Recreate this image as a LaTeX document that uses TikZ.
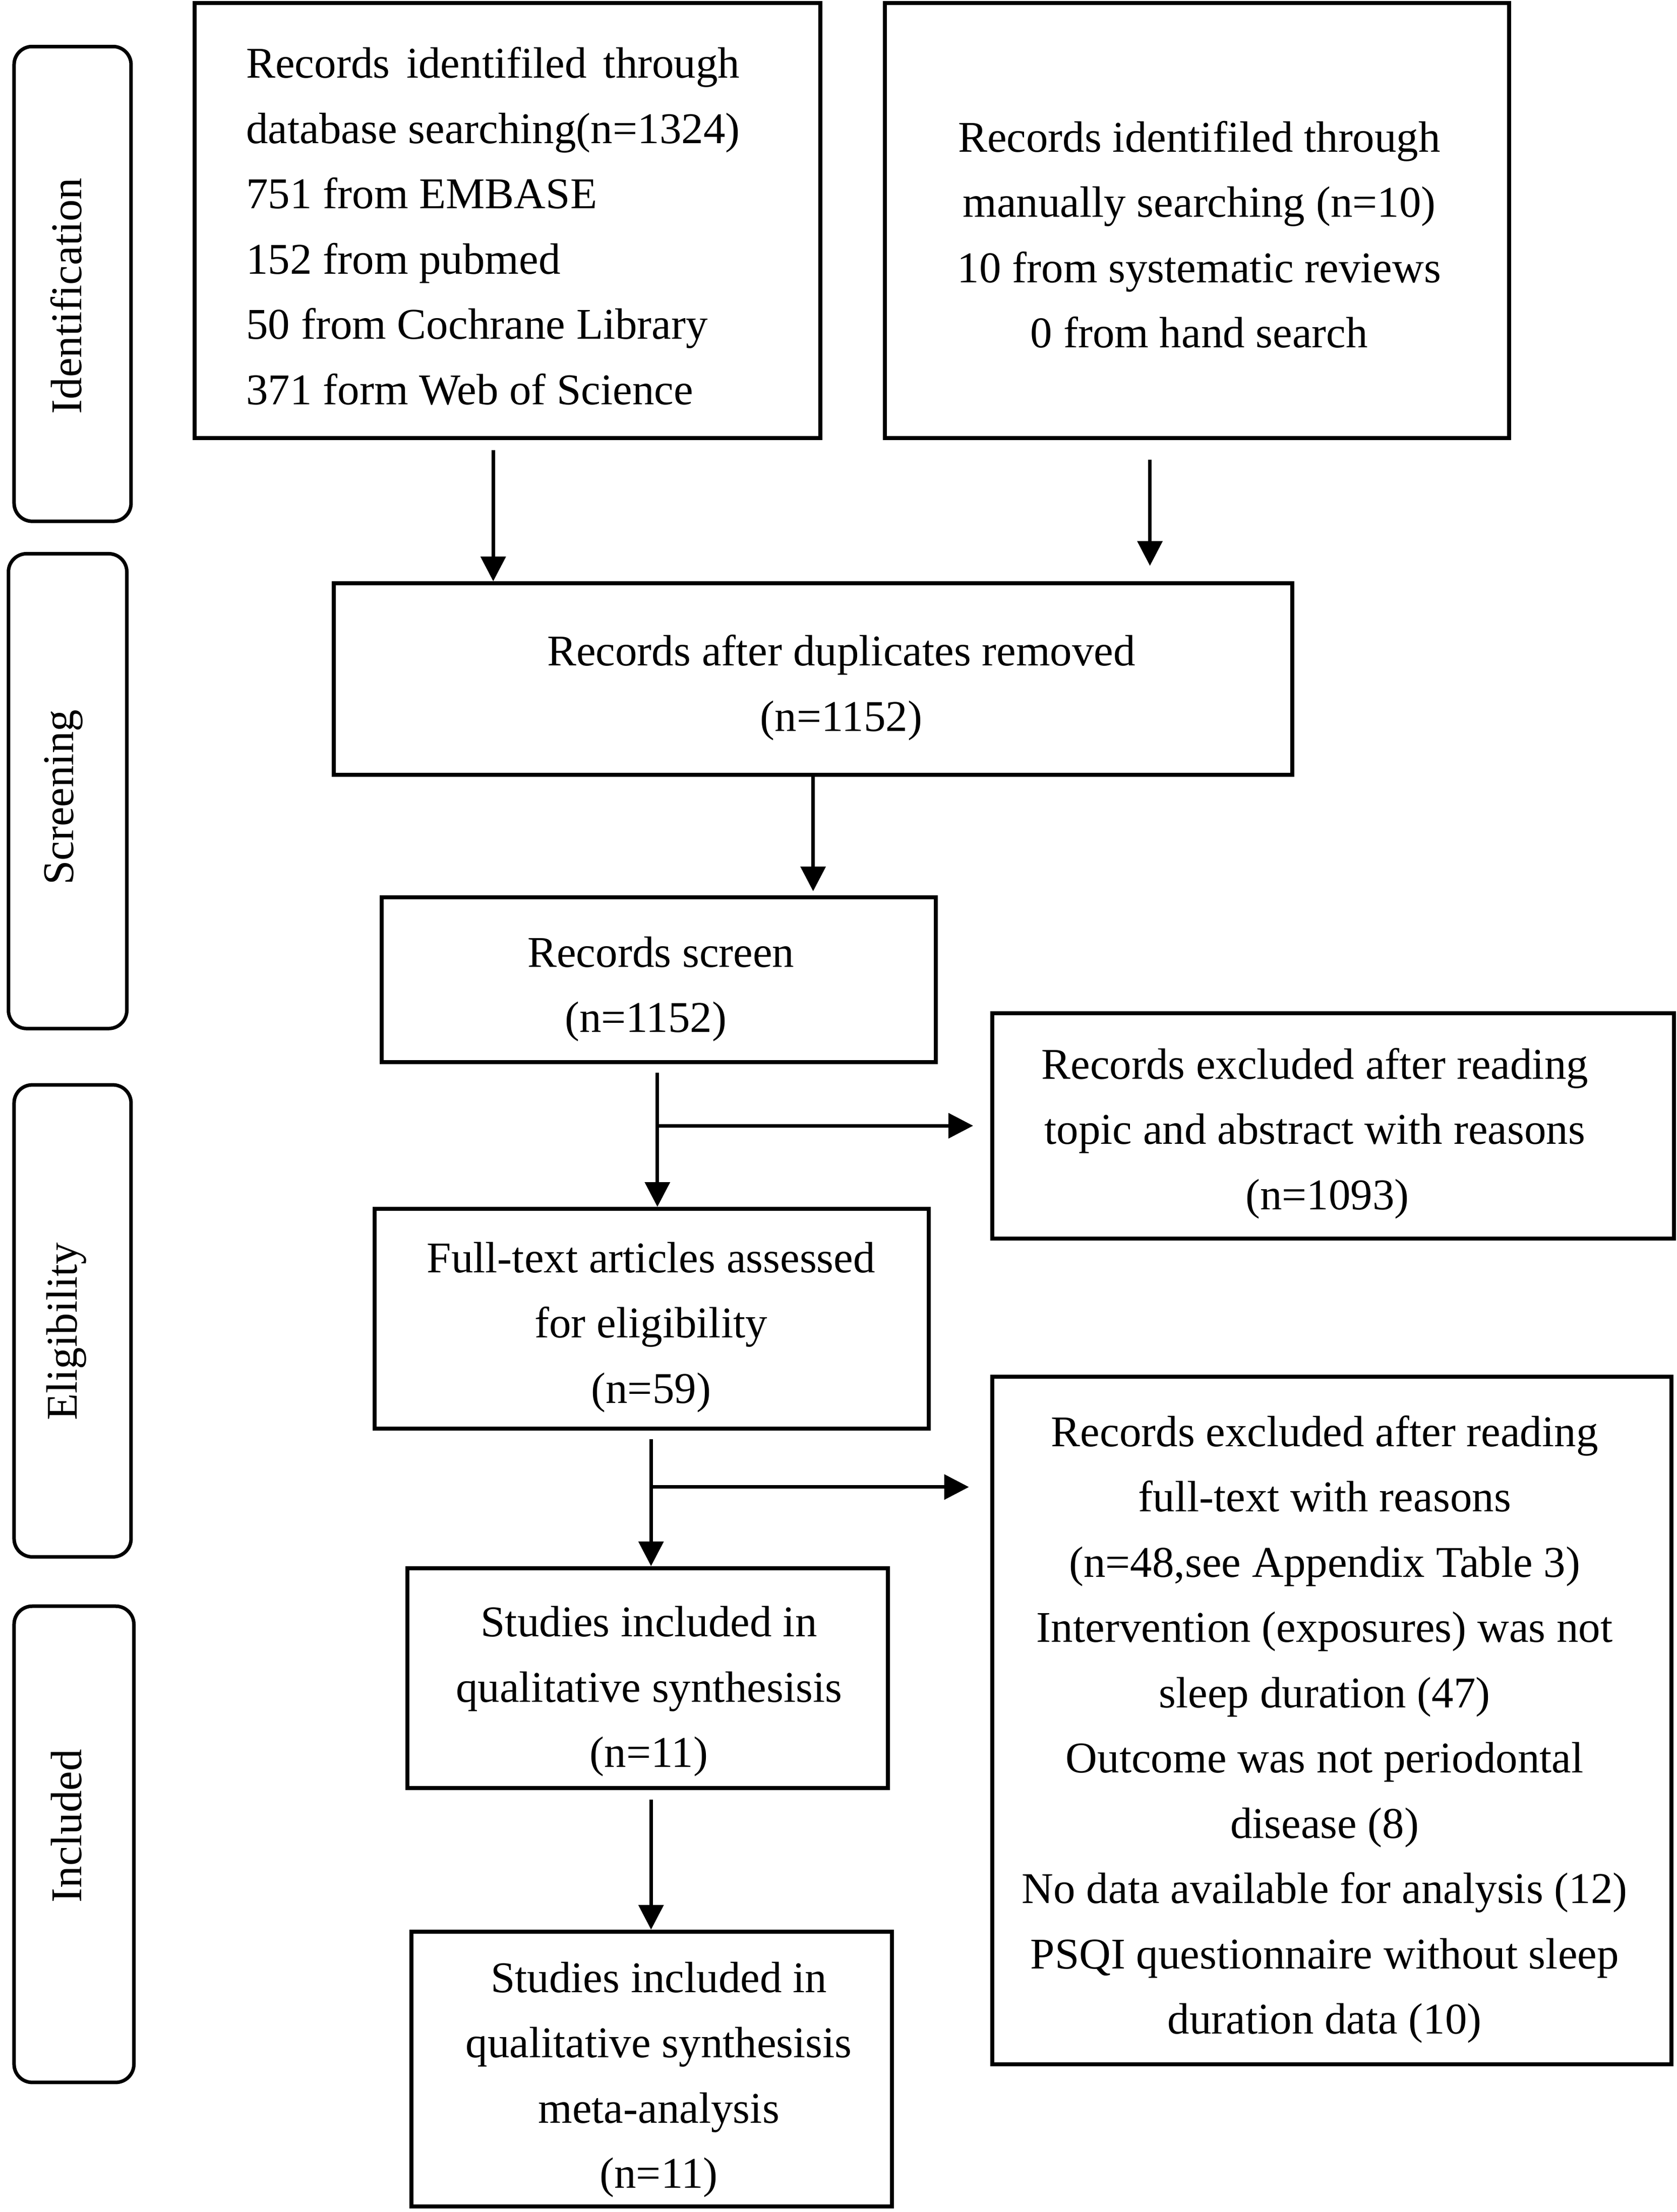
\documentclass[tikz,border=0pt]{standalone}
\usepackage{fontspec}
\setmainfont{Liberation Serif}
\usepackage{calc}
\usetikzlibrary{arrows.meta,calc}
\begin{document}
\begin{tikzpicture}[x=0.2795pt,y=-0.2795pt,
  txt/.style={font={\fontsize{8.7}{12.95}\selectfont}, inner sep=0pt, align=center},
  mbox/.style 2 args={draw, line width=0.8pt, minimum width=#1*0.2795pt, minimum height=#2*0.2795pt, inner sep=0pt},
  side/.style 2 args={draw, line width=0.7pt, rounded corners=3.6pt, minimum width=#1*0.2795pt, minimum height=#2*0.2795pt, inner sep=0pt},
  arr/.style={line width=0.7pt, -{Triangle[length=4.9pt,width=4.9pt]}}]
\useasboundingbox (0,0) rectangle (1190,1570);
% side labels
\node[side={83}{337}] (S1) at (51.5,201.5) {};
\node[txt, rotate=90] (S1t) at (47,210) {Identification};
\node[side={84}{337}] (S2) at (48,561.5) {};
\node[txt, rotate=90] (S2t) at (45,566) {Screening};
\node[side={83}{335}] (S3) at (51.5,937.5) {};
\node[txt, rotate=90] (S3t) at (47,945) {Eligibility};
\node[side={85}{338}] (S4) at (52.5,1309) {};
\node[txt, rotate=90] (S4t) at (47,1296) {Included};
% boxes
\node[mbox={444}{309}] (A) at (360,156.5) {};
\node[txt, align=left, anchor=west] (At) at (174,160.5) {\makebox[\widthof{database searching(n=1324)}][s]{Records identifiled through}\\database searching(n=1324)\\751 from EMBASE\\152 from pubmed\\50 from Cochrane Library\\371 form Web of Science};
\node[mbox={443}{309}] (B) at (849.5,156.5) {};
\node[txt] (Bt) at (851,166.5) {Records identifiled through\\manually searching (n=10)\\10 from systematic reviews\\0 from hand search};
\node[mbox={680}{136}] (C) at (577,482) {};
\node[txt] (Ct) at (597,488) {Records after duplicates removed\\(n=1152)};
\node[mbox={393}{117}] (D) at (467.5,695.5) {};
\node[txt] (Dt) at (469,702) {Records screen\\(n=1152)\hspace*{6pt}};
\node[mbox={484}{160}] (E) at (946,799) {};
\node[txt] (Et) at (933,804.5) {Records excluded after reading\\topic and abstract with reasons\\\hspace*{5pt}(n=1093)};
\node[mbox={393}{156}] (F) at (462.5,936) {};
\node[txt] (Ft) at (462,942) {Full-text articles assessed\\for eligibility\\(n=59)};
\node[mbox={482}{488}] (G) at (945,1221) {};
\node[txt] (Gt) at (940,1227.5) {Records excluded after reading\\full-text with reasons\\(n=48,see Appendix Table 3)\\Intervention (exposures) was not\\sleep duration (47)\\Outcome was not periodontal\\disease (8)\\No data available for analysis (12)\\PSQI questionnaire without sleep\\duration data (10)};
\node[mbox={341}{156}] (H) at (459.5,1191) {};
\node[txt] (Ht) at (460.5,1200.5) {Studies included in\\qualitative synthesisis\\(n=11)};
\node[mbox={341}{195}] (I) at (462.5,1468.5) {};
\node[txt] (It) at (467.5,1476) {Studies included in\\qualitative synthesisis\\meta-analysis\\(n=11)};
% connectors
\coordinate (a1) at ($(A.south)+(-10,7)$);
\draw[arr] (a1) -- (a1 |- C.north);
\coordinate (b1) at ($(B.south)+(-33.5,14)$);
\coordinate (b2) at ($(C.north)+(0,-11)$);
\draw[arr] (b1) -- (b1 |- b2);
\draw[arr] (C.south) -- ($(C.south |- D.north)+(0,-3)$);
\coordinate (d1) at ($(D.south)+(-1,6)$);
\draw[arr] (d1) -- (d1 |- F.north);
\coordinate (d2) at (d1 |- E.west);
\draw[arr] (d2) -- ($(E.west)+(-12,0)$);
\coordinate (f1) at ($(F.south)+(-0.5,6)$);
\draw[arr] (f1) -- (f1 |- H.north);
\coordinate (f2) at ($(f1)+(0,34)$);
\draw[arr] (f2) -- ($(f2 -| G.west)+(-15,0)$);
\coordinate (h1) at ($(H.south)+(2.5,7)$);
\draw[arr] (h1) -- (h1 |- I.north);
\end{tikzpicture}
\end{document}
